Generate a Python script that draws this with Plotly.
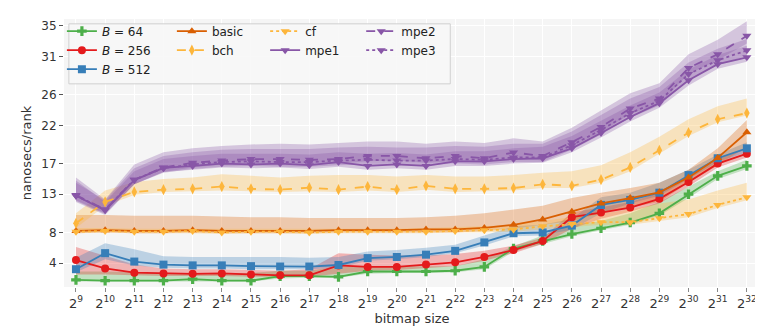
import plotly.graph_objects as go

# x positions are log2 of bitmap size
exps = list(range(9, 33))
tick_text = ['2<sup>%d</sup>' % e for e in exps]
y_ticks = [4, 8, 13, 17, 22, 26, 31, 35]

b64 = [1.8, 1.7, 1.7, 1.7, 1.9, 1.7, 1.7, 2.3, 2.3, 2.2, 2.9, 2.9, 2.9, 3.0, 3.5, 5.9, 6.9, 7.8, 8.55, 9.3, 10.5, 13.0, 15.4, 16.7]
b64_lo = [1.6, 1.6, 1.6, 1.6, 1.6, 1.6, 1.6, 2.0, 2.1, 2.1, 2.6, 2.7, 2.7, 2.8, 3.2, 5.5, 6.5, 7.5, 8.3, 9.0, 10.2, 12.5, 15.0, 16.3]
b64_hi = [2.9, 2.9, 2.8, 2.7, 2.7, 2.7, 2.7, 3.0, 3.0, 3.6, 3.6, 3.6, 3.6, 3.6, 4.5, 6.2, 7.6, 9.0, 9.5, 10.5, 12.0, 14.0, 16.0, 17.5]

b256 = [4.4, 3.3, 2.75, 2.65, 2.6, 2.65, 2.5, 2.4, 2.4, 3.7, 3.5, 3.5, 3.8, 4.1, 4.8, 5.7, 6.9, 10.0, 10.6, 11.25, 12.4, 14.6, 17.0, 18.3]
b256_lo = [2.5, 2.5, 2.4, 2.3, 2.3, 2.3, 2.2, 2.2, 2.2, 2.6, 3.0, 3.1, 3.3, 3.6, 4.3, 5.3, 6.5, 8.5, 9.8, 10.7, 11.8, 14.0, 16.5, 17.8]
b256_hi = [6.1, 5.0, 3.8, 3.3, 3.2, 3.2, 3.1, 3.0, 3.2, 5.3, 5.1, 5.0, 5.0, 5.2, 5.6, 6.3, 7.3, 10.6, 11.3, 12.0, 13.2, 15.2, 17.6, 19.0]

b512 = [3.2, 5.3, 4.2, 3.8, 3.7, 3.7, 3.6, 3.55, 3.55, 3.75, 4.65, 4.8, 5.1, 5.6, 6.7, 7.9, 8.0, 8.9, 11.6, 12.25, 13.2, 15.5, 17.7, 19.0]
b512_lo = [2.8, 4.5, 3.7, 3.4, 3.3, 3.3, 3.2, 3.2, 3.2, 3.4, 4.3, 4.5, 4.8, 5.3, 6.3, 7.5, 7.6, 8.4, 10.5, 11.8, 12.8, 15.0, 17.2, 18.5]
b512_hi = [4.7, 6.6, 5.8, 4.9, 4.8, 4.8, 4.8, 4.8, 4.7, 4.8, 5.5, 5.7, 6.0, 6.4, 7.6, 8.8, 9.0, 9.8, 12.6, 13.2, 14.5, 16.2, 18.2, 19.8]

basic = [8.2, 8.3, 8.2, 8.2, 8.3, 8.2, 8.2, 8.2, 8.2, 8.3, 8.3, 8.3, 8.4, 8.4, 8.6, 9.0, 9.7, 10.7, 11.8, 12.5, 13.25, 15.2, 17.75, 21.1]
basic_lo = [7.9, 8.0, 7.9, 7.9, 8.0, 7.9, 7.9, 7.9, 7.9, 8.0, 8.0, 8.0, 8.0, 8.0, 8.2, 8.5, 9.0, 9.5, 10.5, 11.3, 12.0, 14.5, 16.8, 19.2]
basic_hi = [10.3, 10.3, 10.2, 10.2, 10.2, 10.1, 10.0, 10.0, 9.9, 9.9, 9.9, 9.9, 10.0, 10.2, 10.5, 11.0, 11.5, 12.5, 13.2, 13.8, 14.5, 16.2, 19.0, 22.7]

bch = [9.2, 12.0, 13.3, 13.6, 13.7, 14.0, 13.7, 13.6, 13.85, 13.6, 14.0, 13.6, 14.1, 13.7, 13.7, 13.8, 14.3, 14.1, 14.9, 16.5, 18.75, 21.05, 22.8, 23.6]
bch_lo = [8.6, 11.5, 12.9, 13.3, 13.4, 13.5, 13.4, 13.3, 13.4, 13.3, 13.5, 13.3, 13.6, 13.3, 13.4, 13.5, 13.8, 13.8, 14.5, 16.0, 18.3, 20.6, 22.4, 23.3]
bch_hi = [10.5, 13.5, 14.6, 15.0, 15.2, 15.6, 15.4, 15.2, 15.4, 15.5, 15.5, 15.3, 15.5, 15.3, 15.3, 15.5, 15.8, 16.0, 16.8, 18.5, 20.5, 22.8, 24.5, 25.5]

cf = [8.1, 8.2, 8.1, 8.1, 8.2, 8.0, 8.1, 8.1, 8.0, 8.1, 8.1, 8.1, 8.1, 8.2, 8.3, 8.4, 8.8, 9.1, 9.35, 9.35, 9.85, 10.4, 11.6, 12.6]
cf_lo = [7.9, 8.0, 7.9, 7.9, 7.9, 7.8, 7.9, 7.9, 7.8, 7.9, 7.9, 7.9, 7.9, 8.0, 8.0, 8.1, 8.4, 8.7, 9.0, 9.0, 9.5, 10.0, 11.2, 12.2]
cf_hi = [8.6, 8.6, 8.5, 8.5, 8.5, 8.5, 8.5, 8.5, 8.5, 8.5, 8.5, 8.5, 8.6, 8.7, 8.8, 9.0, 9.5, 10.0, 10.5, 11.0, 11.8, 12.3, 13.5, 14.5]

mpe1 = [12.8, 10.9, 14.85, 16.45, 16.7, 17.0, 16.9, 17.0, 16.8, 17.2, 16.7, 16.9, 16.7, 17.3, 17.3, 17.6, 17.7, 19.0, 21.0, 23.1, 24.9, 27.9, 30.0, 30.9]
mpe1_lo = [12.0, 10.3, 14.3, 15.9, 16.2, 16.5, 16.4, 16.5, 16.3, 16.6, 16.2, 16.4, 16.2, 16.7, 16.7, 17.0, 17.1, 18.5, 20.4, 22.5, 24.3, 27.2, 29.4, 30.3]
mpe1_hi = [14.8, 12.0, 16.0, 17.6, 18.0, 18.3, 18.3, 18.3, 18.2, 18.5, 18.3, 18.4, 18.2, 18.6, 18.6, 19.0, 19.2, 20.6, 22.6, 24.6, 26.3, 29.3, 31.2, 32.4]

mpe2 = [12.9, 11.0, 14.9, 16.5, 17.1, 17.4, 17.6, 17.6, 17.5, 17.6, 18.0, 18.0, 17.7, 18.0, 17.7, 18.45, 18.0, 19.8, 21.8, 24.2, 25.5, 29.5, 31.3, 33.7]
mpe2_lo = [12.2, 10.5, 14.3, 15.9, 16.5, 16.9, 17.0, 17.0, 16.9, 17.0, 17.3, 17.4, 17.1, 17.3, 17.1, 17.8, 17.4, 19.2, 21.1, 23.5, 24.8, 28.7, 30.5, 32.7]
mpe2_hi = [15.2, 12.3, 16.9, 18.5, 19.0, 19.3, 19.5, 19.6, 19.5, 19.7, 19.9, 19.9, 19.6, 19.9, 19.7, 20.3, 19.9, 21.7, 24.0, 26.2, 27.5, 31.3, 33.2, 35.6]

mpe3 = [12.8, 11.0, 14.9, 16.4, 16.9, 17.2, 17.3, 17.2, 17.2, 17.4, 17.5, 17.4, 17.4, 17.6, 17.5, 17.8, 17.8, 19.4, 21.4, 23.6, 25.2, 28.7, 30.5, 31.8]
mpe3_lo = [12.1, 10.4, 14.3, 15.8, 16.3, 16.6, 16.7, 16.6, 16.6, 16.8, 16.9, 16.8, 16.8, 17.0, 16.9, 17.2, 17.2, 18.8, 20.8, 23.0, 24.6, 28.0, 29.9, 31.1]
mpe3_hi = [14.5, 12.2, 16.4, 18.0, 18.5, 18.8, 18.9, 18.9, 18.9, 19.1, 19.2, 19.1, 19.1, 19.3, 19.2, 19.6, 19.6, 21.2, 23.4, 25.5, 27.0, 30.2, 32.0, 33.3]

GREEN, RED, BLUE = '#4daf4a', '#e41a1c', '#377eb8'
ORANGE, YELLOW, PURPLE = '#d95f02', '#fdb63c', '#8856a7'

# (name, values, low, high, color, marker, dash, legend)
series = [
    ('<i>B</i> = 64', b64, b64_lo, b64_hi, GREEN, 'cross', 'solid', 'legend'),
    ('<i>B</i> = 256', b256, b256_lo, b256_hi, RED, 'circle', 'solid', 'legend'),
    ('<i>B</i> = 512', b512, b512_lo, b512_hi, BLUE, 'square', 'solid', 'legend'),
    ('basic', basic, basic_lo, basic_hi, ORANGE, 'triangle-up', 'solid', 'legend2'),
    ('bch', bch, bch_lo, bch_hi, YELLOW, 'diamond-tall', 'dash', 'legend2'),
    ('cf', cf, cf_lo, cf_hi, YELLOW, 'triangle-down', 'dot', 'legend3'),
    ('mpe1', mpe1, mpe1_lo, mpe1_hi, PURPLE, 'triangle-down', 'solid', 'legend3'),
    ('mpe2', mpe2, mpe2_lo, mpe2_hi, PURPLE, 'triangle-down', 'dash', 'legend4'),
    ('mpe3', mpe3, mpe3_lo, mpe3_hi, PURPLE, 'triangle-down', 'dot', 'legend4'),
]


def rgba(hex_color, alpha):
    h = hex_color.lstrip('#')
    r, g, b = int(h[0:2], 16), int(h[2:4], 16), int(h[4:6], 16)
    return 'rgba(%d,%d,%d,%s)' % (r, g, b, alpha)


fig = go.Figure()

# shaded min/max bands first
for name, vals, lo, hi, color, sym, dash, leg in series:
    fig.add_trace(go.Scatter(
        x=exps + exps[::-1], y=hi + lo[::-1], fill='toself',
        fillcolor=rgba(color, 0.3), line=dict(width=0), mode='lines',
        hoverinfo='skip', showlegend=False))

for name, vals, lo, hi, color, sym, dash, leg in series:
    fig.add_trace(go.Scatter(
        x=exps, y=vals, name=name, mode='lines+markers', legend=leg,
        line=dict(color=color, width=1.8, dash=dash),
        marker=dict(symbol=sym, size=8, color=color, line=dict(width=0))))

leg_style = dict(bgcolor='rgba(0,0,0,0)', borderwidth=0, orientation='v',
                 xanchor='left', yanchor='top', y=1.005, tracegroupgap=0,
                 font=dict(family='DejaVu Sans', size=12, color='#222'),
                 itemwidth=30)

fig.add_shape(type='rect', xref='paper', yref='paper', x0=0.007, x1=0.555, y0=0.758, y1=0.982,
              fillcolor='rgba(247,247,247,0.85)', line=dict(color='#d0d0d0', width=1), layer='above')

fig.update_layout(
    width=763, height=331,
    margin=dict(l=56, r=11, t=10, b=52),
    paper_bgcolor='white', plot_bgcolor='#f5f5f5',
    font=dict(family='DejaVu Sans', size=12, color='#333'),
    legend=dict(leg_style, x=-0.003),
    legend2=dict(leg_style, x=0.155),
    legend3=dict(leg_style, x=0.289),
    legend4=dict(leg_style, x=0.427),
    xaxis=dict(range=[8.59, 32.45], tickvals=exps, ticktext=tick_text,
               showgrid=True, gridcolor='white', gridwidth=1, zeroline=False,
               ticks='outside', ticklen=4, tickcolor='#888', showline=False,
               tickfont=dict(size=13, color='#333'),
               title=dict(text='bitmap size', font=dict(size=13, color='#333'), standoff=4)),
    yaxis=dict(range=[0.875, 35.9], tickvals=y_ticks,
               showgrid=True, gridcolor='white', gridwidth=1, zeroline=False,
               ticks='outside', ticklen=4, tickcolor='#555', showline=False,
               tickfont=dict(size=12, color='#333'),
               title=dict(text='nanosecs/rank', font=dict(size=13, color='#333'), standoff=6)),
)

fig.write_html("out.html")
